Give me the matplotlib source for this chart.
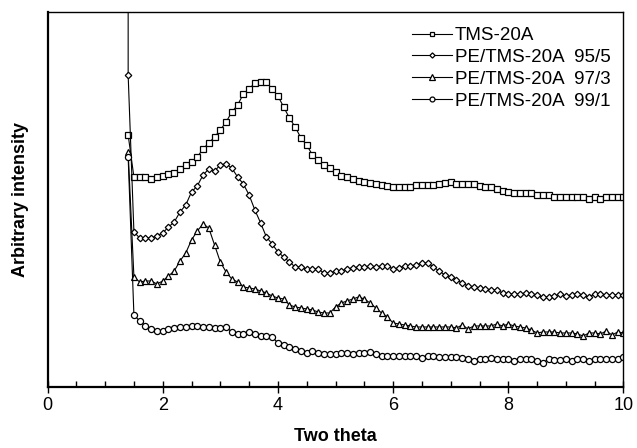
import numpy as np
import matplotlib
matplotlib.use("Agg")
import matplotlib.pyplot as plt
from matplotlib.ticker import MultipleLocator, NullLocator

plt.rcParams["font.family"] = ["Liberation Sans", "DejaVu Sans"]

# ── Données (intensité arbitraire) ────────────────────────────
theta = np.round(np.arange(1.4, 10.05, 0.1), 1)   # pas de 0.1°

tms_20a = [252,
           210, 210, 210, 208, 210,
           211, 213, 214, 218, 222, 225, 230, 238, 244, 250,
           257, 265, 275, 282, 293, 298, 304, 305, 305, 298,
           291, 280, 269, 260, 249, 242, 232, 227, 222, 219,
           215, 211, 210, 208, 206, 205, 204, 203, 202, 201,
           200, 200, 200, 200, 202, 202, 202, 202, 203, 204,
           205, 203, 203, 203, 203, 201, 200, 200, 198, 196,
           195, 194, 194, 194, 194, 192, 192, 192, 190, 190,
           190, 190, 190, 190, 188, 190, 188, 190, 190, 190,
           190]

pe_95_5 = [312,
           155, 149, 149, 149, 151,
           154, 160, 165, 175, 182, 195, 201, 212, 218, 216,
           222, 223, 219, 210, 203, 192, 177, 164, 150, 143,
           135, 130, 125, 120, 120, 118, 118, 118, 114, 114,
           116, 116, 118, 119, 120, 120, 121, 120, 121, 121,
           118, 119, 121, 121, 122, 124, 124, 120, 116, 112,
           110, 107, 104, 101, 100, 99, 98, 97, 97, 94,
           93, 93, 93, 94, 93, 92, 90, 90, 91, 93,
           91, 92, 93, 92, 90, 93, 93, 92, 92, 92,
           92]

pe_97_3 = [235,
           110, 105, 106, 106, 103,
           106, 111, 116, 126, 134, 147, 156, 163, 159, 142,
           125, 115, 108, 105, 100, 99, 98, 96, 94, 91,
           89, 88, 82, 80, 79, 78, 77, 75, 74, 74,
           80, 84, 86, 88, 90, 88, 84, 79, 74, 70,
           64, 63, 62, 61, 60, 60, 60, 60, 60, 60,
           60, 59, 62, 58, 61, 61, 61, 61, 63, 61,
           63, 61, 60, 59, 57, 54, 55, 55, 55, 54,
           54, 54, 53, 51, 54, 54, 53, 56, 52, 55,
           54]

pe_99_1 = [230,
           72, 66, 61, 58, 56,
           56, 58, 59, 60, 60, 61, 61, 60, 60, 59,
           59, 60, 55, 53, 53, 55, 53, 51, 51, 50,
           44, 42, 40, 38, 36, 34, 36, 34, 33, 33,
           33, 34, 34, 33, 34, 34, 35, 33, 31, 31,
           31, 31, 31, 31, 31, 29, 31, 31, 30, 30,
           30, 30, 29, 28, 26, 28, 28, 29, 28, 28,
           28, 26, 28, 28, 28, 26, 24, 28, 27, 27,
           28, 26, 28, 28, 26, 28, 28, 28, 28, 28,
           30]

# pic aux très petits angles (sort du cadre)
spike_theta = 1.4
spike_value = 600

series = [
    ("TMS-20A",           tms_20a, "s", 4.0),
    ("PE/TMS-20A  95/5",  pe_95_5, "D", 3.3),
    ("PE/TMS-20A  97/3",  pe_97_3, "^", 4.6),
    ("PE/TMS-20A  99/1",  pe_99_1, "o", 4.4),
]

fig = plt.figure(figsize=(6.37, 4.48), dpi=100)
ax = fig.add_axes([0.0746, 0.1362, 0.9042, 0.837])

for i, (name, vals, mk, ms) in enumerate(series):
    x = np.array(theta)
    y = np.array(vals, dtype=float)
    if i == 1:
        x = np.concatenate([[spike_theta], x])
        y = np.concatenate([[spike_value], y])
    ax.plot(x, y, color="black", linewidth=0.8, marker=mk, markersize=ms,
            markerfacecolor="white", markeredgecolor="black",
            markeredgewidth=0.9, label=name)

ax.set_xlim(0, 10)
ax.set_ylim(0, 375)
ax.xaxis.set_major_locator(MultipleLocator(2))
ax.xaxis.set_minor_locator(MultipleLocator(0.5))
ax.yaxis.set_major_locator(NullLocator())
ax.tick_params(axis="x", which="major", direction="inout", length=8,
               width=1.0, labelsize=13, pad=3)
ax.tick_params(axis="x", which="minor", direction="in", length=4, width=1.0)
ax.tick_params(axis="x", top=False, which="both")

for side in ["left", "bottom"]:
    ax.spines[side].set_linewidth(1.6)
for side in ["top", "right"]:
    ax.spines[side].set_linewidth(1.0)

ax.set_xlabel("Two theta", fontsize=13, fontweight="bold", labelpad=10)
ax.set_ylabel("Arbitrary intensity", fontsize=13, fontweight="bold", labelpad=13)

leg = ax.legend(loc="upper right", fontsize=13.5, frameon=False,
                markerscale=0.8, handlelength=2.1, handletextpad=0.15,
                labelspacing=0.25, borderaxespad=0.3,
                bbox_to_anchor=(1.0, 0.995))

fig.savefig("out.png", dpi=100)
